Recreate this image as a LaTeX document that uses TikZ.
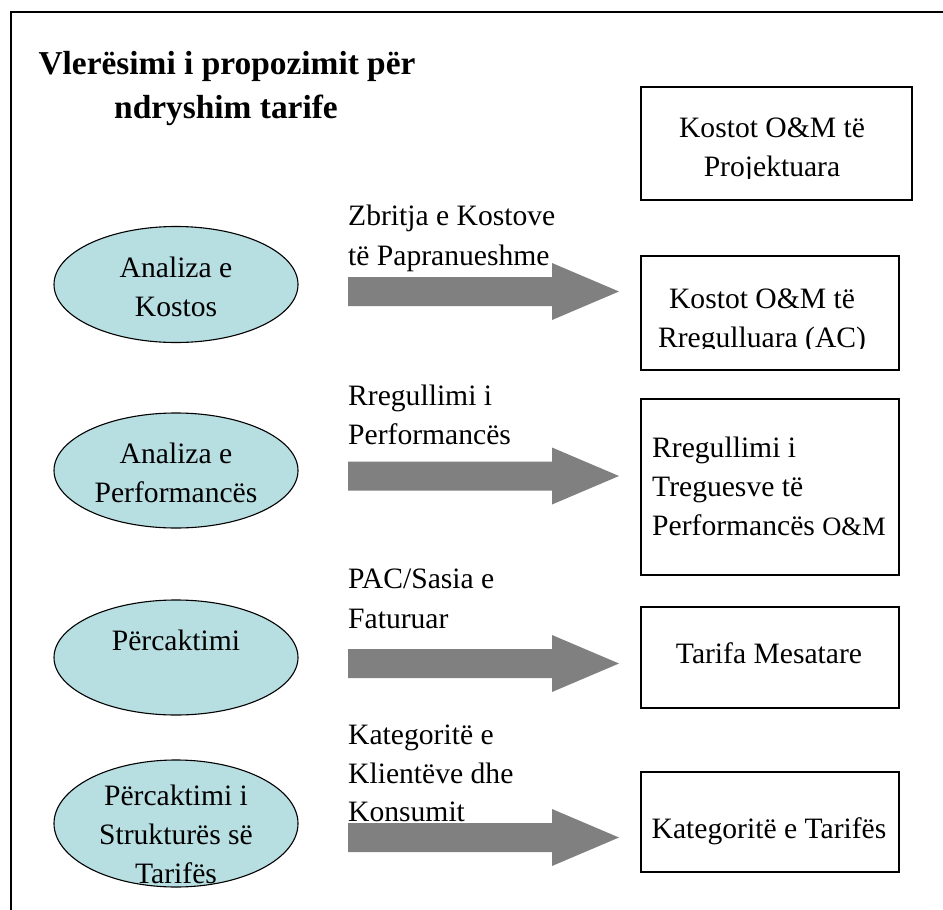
\documentclass[tikz,border=0pt]{standalone}
\usepackage{fontspec}
\setmainfont{Liberation Serif}
\usetikzlibrary{shapes.geometric}
\definecolor{ellfill}{HTML}{B7DEE1}
\definecolor{arrowgray}{HTML}{808080}
\newcommand{\blockarrow}[1]{%
  \fill[arrowgray] (348,#1-14.5) -- (552,#1-14.5) -- (552,#1-28.5) -- (619,#1)
    -- (552,#1+28.5) -- (552,#1+14.5) -- (348,#1+14.5) -- cycle;}
\begin{document}
\begin{tikzpicture}[x=1pt,y=-1pt,
  txt/.style={font=\fontsize{29.6}{39}\selectfont, inner sep=0pt},
  ttl/.style={font=\fontsize{33.4}{44}\selectfont\bfseries, inner sep=0pt, align=center},
  bx/.style={draw, line width=1.6pt, rectangle, inner sep=0pt},
  ell/.style={draw, line width=1.1pt, fill=ellfill, ellipse, minimum width=244pt, inner sep=0pt}]
\useasboundingbox (0,0) rectangle (943,910);
\draw[line width=1.6pt] (11,940) -- (11,12) -- (960,12);

% title
\node[ttl, anchor=base] (ttl1) at (227,74) {Vlerësimi i propozimit për};
\node[ttl, anchor=base] (ttl2) at (226,118) {ndryshim tarife};

% ellipses
\node[ell, minimum height=116pt] (e1) at (176,284.5) {};
\node[ell, minimum height=115pt] (e2) at (176,470.5) {};
\node[ell, minimum height=115pt] (e3) at (176,657.5) {};
\node[ell, minimum height=127pt] (e4) at (176,823.5) {};

\node[txt, anchor=base] (e1a) at (176,277) {Analiza e};
\node[txt, anchor=base] (e1b) at (176,316) {Kostos};
\node[txt, anchor=base] (e2a) at (176,463) {Analiza e};
\node[txt, anchor=base] (e2b) at (176,502) {Performancës};
\node[txt, anchor=base] (e3a) at (176,650) {Përcaktimi};
\node[txt, anchor=base] (e4a) at (176,805) {Përcaktimi i};
\node[txt, anchor=base] (e4b) at (176,844) {Strukturës së};
\node[txt, anchor=base] (e4c) at (176,883) {Tarifës};

% boxes
\node[bx, minimum width=271pt, minimum height=113pt] (b1) at (776.5,143.5) {};
\node[bx, minimum width=258pt, minimum height=114pt] (b2) at (770,313) {};
\node[bx, minimum width=258pt, minimum height=176pt] (b3) at (770,487) {};
\node[bx, minimum width=258pt, minimum height=101pt] (b4) at (770,657.5) {};
\node[bx, minimum width=258pt, minimum height=100pt] (b5) at (770,822) {};

\node[txt, anchor=base] (b1a) at (772,137) {Kostot O\&M të};
\begin{scope}
  \clip (641,150) rectangle (912,178.5);
  \node[txt, anchor=base] (b1b) at (772,176) {Projektuara};
\end{scope}
\node[txt, anchor=base] (b2a) at (762,308) {Kostot O\&M të};
\begin{scope}
  \clip (641,320) rectangle (899,348.5);
  \node[txt, anchor=base] (b2b) at (762,347) {Rregulluara (AC)};
\end{scope}
\node[txt, anchor=base west] (b3a) at (652,457) {Rregullimi i};
\node[txt, anchor=base west] (b3b) at (652,496) {Treguesve të};
\node[txt, anchor=base west] (b3c) at (652,535) {Performancës {\fontsize{26.5}{30}\selectfont O\&M}};
\node[txt, anchor=base] (b4a) at (769,663) {Tarifa Mesatare};
\node[txt, anchor=base] (b5a) at (769,838) {Kategoritë e Tarifës};

% arrow labels
\node[txt, anchor=base west] (l1a) at (348,225) {Zbritja e Kostove};
\node[txt, anchor=base west] (l1b) at (348,265) {të Papranueshme};
\node[txt, anchor=base west] (l2a) at (348,405) {Rregullimi i};
\node[txt, anchor=base west] (l2b) at (348,444) {Performancës};
\node[txt, anchor=base west] (l3a) at (348,588) {PAC/Sasia e};
\node[txt, anchor=base west] (l3b) at (348,628) {Faturuar};
\node[txt, anchor=base west] (l4a) at (348,744) {Kategoritë e};
\node[txt, anchor=base west] (l4b) at (348,783) {Klientëve dhe};
\node[txt, anchor=base west] (l4c) at (348,821) {Konsumit};

% block arrows
\blockarrow{291.5}
\blockarrow{476}
\blockarrow{663.5}
\blockarrow{837.5}
\end{tikzpicture}
\end{document}
